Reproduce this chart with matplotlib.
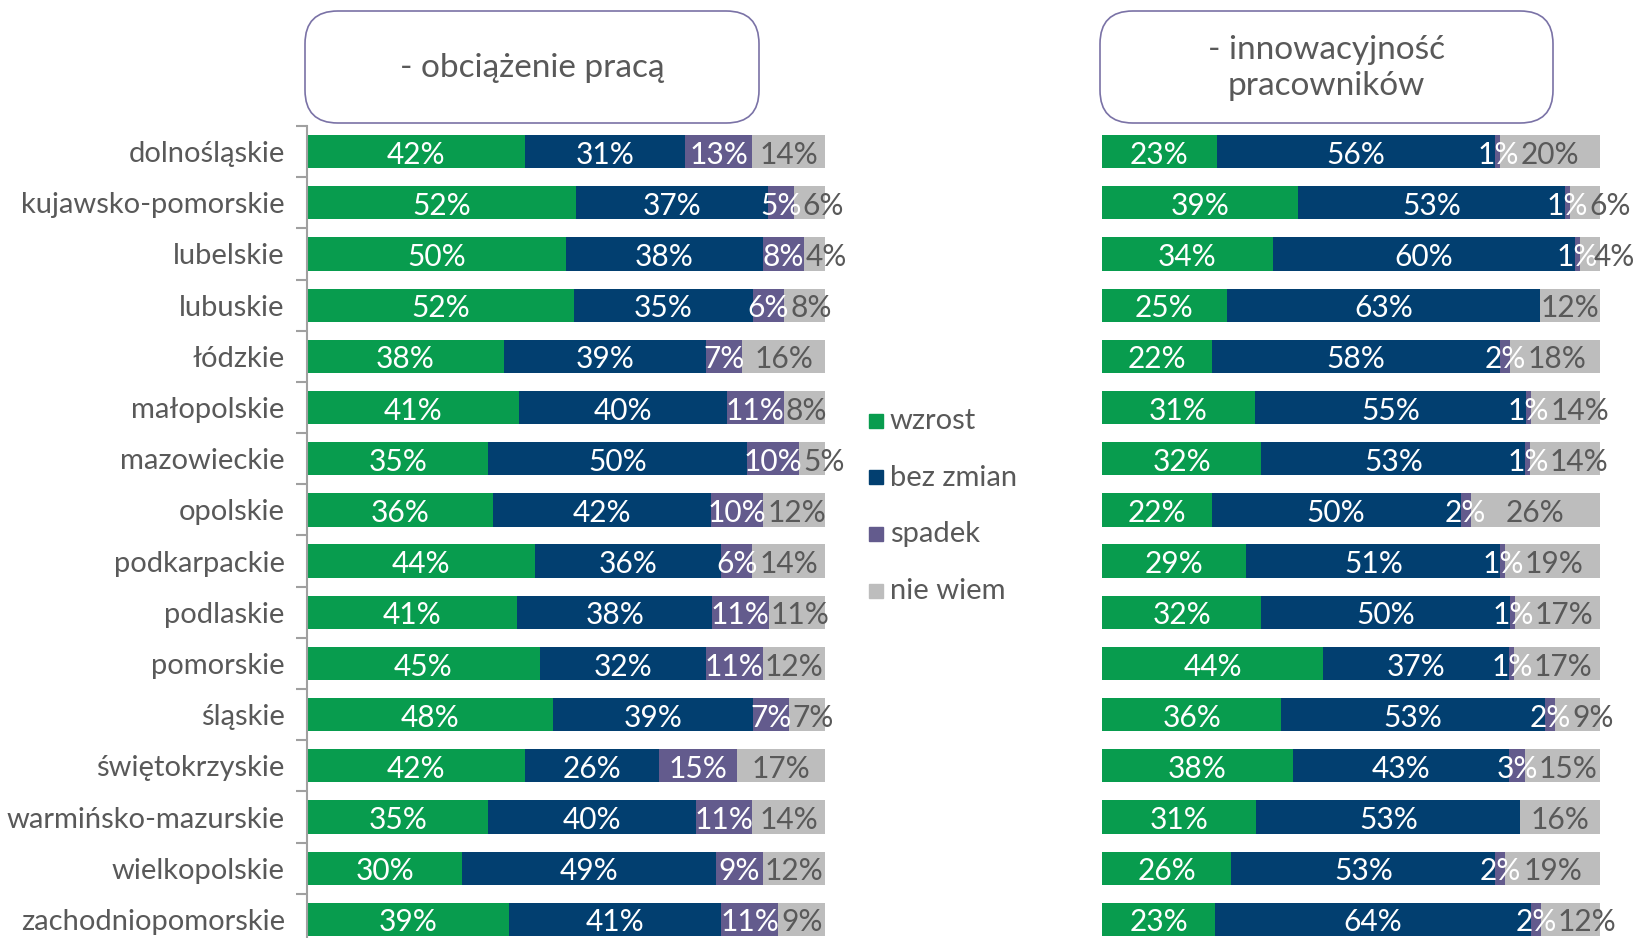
import numpy as np
import matplotlib
matplotlib.use("Agg")
import matplotlib.pyplot as plt
from matplotlib.patches import FancyBboxPatch

plt.rcParams['font.family'] = ['Lato', 'DejaVu Sans']

regions = ['dolnośląskie', 'kujawsko-pomorskie', 'lubelskie', 'lubuskie', 'łódzkie',
           'małopolskie', 'mazowieckie', 'opolskie', 'podkarpackie', 'podlaskie',
           'pomorskie', 'śląskie', 'świętokrzyskie', 'warmińsko-mazurskie',
           'wielkopolskie', 'zachodniopomorskie']
series = ['wzrost', 'bez zmian', 'spadek', 'nie wiem']

# obciążenie pracą
load_up = [42, 52, 50, 52, 38, 41, 35, 36, 44, 41, 45, 48, 42, 35, 30, 39]
load_same = [31, 37, 38, 35, 39, 40, 50, 42, 36, 38, 32, 39, 26, 40, 49, 41]
load_down = [13, 5, 8, 6, 7, 11, 10, 10, 6, 11, 11, 7, 15, 11, 9, 11]
load_dk = [14, 6, 4, 8, 16, 8, 5, 12, 14, 11, 12, 7, 17, 14, 12, 9]

# innowacyjność pracowników
inno_up = [23, 39, 34, 25, 22, 31, 32, 22, 29, 32, 44, 36, 38, 31, 26, 23]
inno_same = [56, 53, 60, 63, 58, 55, 53, 50, 51, 50, 37, 53, 43, 53, 53, 64]
inno_down = [1, 1, 1, 0, 2, 1, 1, 2, 1, 1, 1, 2, 3, 0, 2, 2]
inno_dk = [20, 6, 4, 12, 18, 14, 14, 26, 19, 17, 17, 9, 15, 16, 19, 12]

colors = ['#089c4e', '#023f70', '#635b8d', '#bdbdbd']
label_colors = ['white', 'white', 'white', '#595959']
text_gray = '#595959'

W, H = 1638, 938
fig = plt.figure(figsize=(W / 100, H / 100), dpi=100)


def px_axes(x0, x1, y_top, y_bot):
    return fig.add_axes([x0 / W, 1 - y_bot / H, (x1 - x0) / W, (y_bot - y_top) / H])


def draw_panel(ax, data, show_labels):
    vals = np.array(data, dtype=float)
    totals = vals.sum(axis=0)
    frac = vals / totals
    y = np.arange(len(regions))
    left = np.zeros(len(regions))
    texts = [[None] * 4 for _ in regions]
    for i in range(4):
        ax.barh(y, frac[i], left=left, height=0.65, color=colors[i], edgecolor='none')
        for j in range(len(regions)):
            if vals[i][j] > 0:
                texts[j][i] = ax.text(left[j] + frac[i][j] / 2, y[j] + 0.06,
                                      f'{int(vals[i][j])}%', ha='center', va='center',
                                      fontsize=21.5, color=label_colors[i])
        left += frac[i]
    ax.set_xlim(0, 1)
    ax.set_ylim(len(regions) - 0.5, -0.5)
    ax.set_xticks([])
    for s in ['top', 'right', 'bottom']:
        ax.spines[s].set_visible(False)
    if show_labels:
        ax.spines['left'].set_color('#a0a0a0')
        ax.spines['left'].set_linewidth(1.5)
        ax.set_yticks(y)
        ax.set_yticklabels(regions, fontsize=21, color=text_gray)
        ax.tick_params(axis='y', which='major', length=0, pad=16)
        ax.set_yticks(np.arange(-0.5, len(regions), 1), minor=True)
        ax.tick_params(axis='y', which='minor', length=8, width=1.5, color='#a0a0a0')
    else:
        ax.spines['left'].set_visible(False)
        ax.set_yticks([])
    return texts


ax1 = px_axes(307, 825, 126, 945)
t1 = draw_panel(ax1, [load_up, load_same, load_down, load_dk], True)
ax2 = px_axes(1102, 1600, 126, 945)
t2 = draw_panel(ax2, [inno_up, inno_same, inno_down, inno_dk], False)

# nudge the 'nie wiem' label right when it runs into the 'spadek' label
fig.canvas.draw()
renderer = fig.canvas.get_renderer()
for ax, texts in [(ax1, t1), (ax2, t2)]:
    for row in texts:
        down, dk = row[2], row[3]
        if down is None or dk is None:
            continue
        b_down = down.get_window_extent(renderer)
        b_dk = dk.get_window_extent(renderer)
        shift = b_down.x1 + 1 - b_dk.x0
        shift = min(shift, W - 3 - b_dk.x1)
        if shift > 0:
            x, yy = dk.get_position()
            dk.set_position((x + shift / ax.bbox.width, yy))

# title boxes
for (x0, x1, txt) in [(305, 759, '- obciążenie pracą'),
                      (1100, 1553, '- innowacyjność\npracowników')]:
    box = FancyBboxPatch((x0 / W, 1 - 123 / H), (x1 - x0) / W, (123 - 11) / H,
                         boxstyle='round,pad=0,rounding_size=0.02',
                         transform=fig.transFigure, facecolor='white',
                         edgecolor='#7a72a6', linewidth=1.2, mutation_aspect=W / H)
    fig.add_artist(box)
    fig.text((x0 + x1) / 2 / W, 1 - 68 / H, txt, ha='center', va='center',
             fontsize=24, color=text_gray, linespacing=1.25)

# legend
for k, name in enumerate(series):
    yc = 421 + k * 56.5
    fig.patches.append(plt.Rectangle((869 / W, 1 - (yc + 7) / H), 14 / W, 14 / H,
                                     transform=fig.transFigure, color=colors[k]))
    fig.text(890 / W, 1 - yc / H, name, ha='left', va='center', fontsize=21,
             color=text_gray)

fig.savefig('out.png', dpi=100)
